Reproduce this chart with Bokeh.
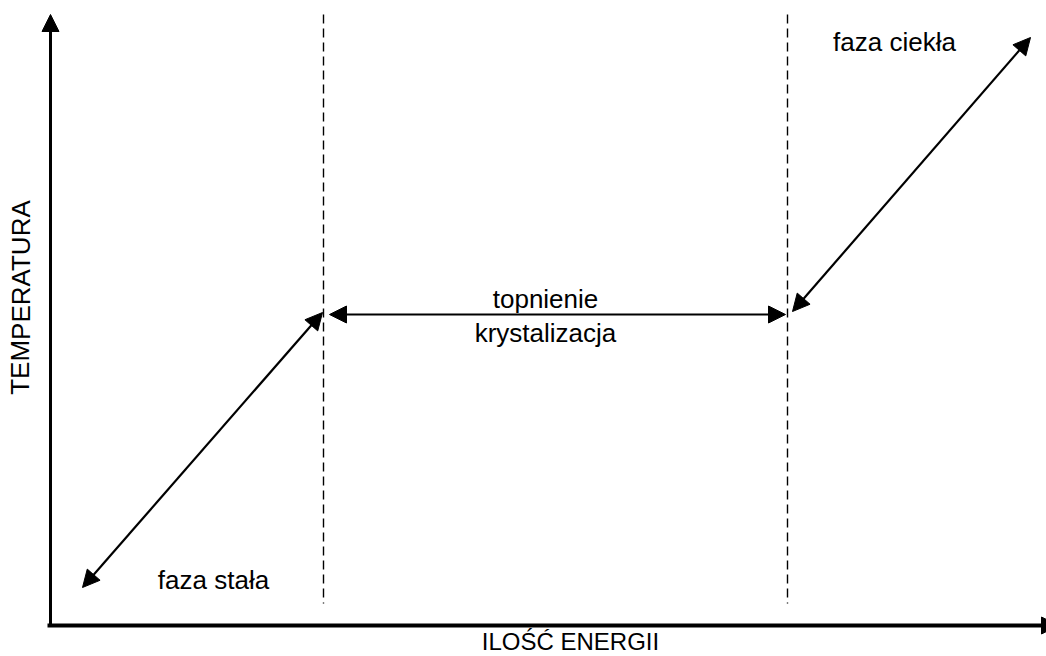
from bokeh.plotting import figure
from bokeh.models import Range1d, Arrow, NormalHead, ColumnDataSource, Label
from bokeh.embed import file_html
from bokeh.resources import INLINE

# Diagram geometry in page-pixel units (x to the right, y downward)
axis_origin = (50, 625)
y_axis_top = 14
x_axis_end = 1058

phase_boundaries = [323, 787]
boundary_top = 14
boundary_bottom = 603

# double-headed arrows: (x_start, y_start, x_end, y_end)
solid_arrow = (82, 587, 322, 312)
transition_arrow = (329, 314, 785, 314)
liquid_arrow = (792, 311, 1030, 37)

labels_text = ["faza stała", "topnienie", "krystalizacja", "faza ciekła"]
labels_x = [213, 545, 545, 894]
labels_y = [579, 298, 332, 41]

x_title = "ILOŚĆ ENERGII"
y_title = "TEMPERATURA"

W, H = 1046, 656
p = figure(width=W, height=H, x_range=Range1d(0, W), y_range=Range1d(H, 0),
           output_backend="svg", toolbar_location=None, min_border=0)
p.axis.visible = False
p.grid.visible = False
p.outline_line_color = None
p.background_fill_color = "white"

FONT = "Liberation Sans"

def head(s):
    return NormalHead(size=s, fill_color="black", line_color="black", line_width=1)

# axes with arrows
p.add_layout(Arrow(x_start=axis_origin[0], y_start=axis_origin[1], x_end=axis_origin[0], y_end=y_axis_top,
                   line_width=3, line_color="black", end=head(17)))
p.add_layout(Arrow(x_start=axis_origin[0] - 3, y_start=axis_origin[1], x_end=x_axis_end, y_end=axis_origin[1],
                   line_width=4, line_color="black", end=head(17)))

# dashed phase boundaries
src = ColumnDataSource(dict(xs=[[b, b] for b in phase_boundaries],
                            ys=[[boundary_top, boundary_bottom] for _ in phase_boundaries]))
p.multi_line("xs", "ys", source=src, line_color="black", line_width=1.4, line_dash="9 5")

for (x0, y0, x1, y1) in [solid_arrow, transition_arrow, liquid_arrow]:
    p.add_layout(Arrow(x_start=x0, y_start=y0, x_end=x1, y_end=y1, line_width=2.2, line_color="black",
                       start=head(17), end=head(17)))

for t, x, y in zip(labels_text, labels_x, labels_y):
    p.add_layout(Label(x=x, y=y, text=t, text_font=FONT, text_font_size="26px", text_color="black",
                       text_align="center", text_baseline="alphabetic"))

p.add_layout(Label(x=570, y=641, text=x_title, text_font=FONT, text_font_size="24px", text_color="black",
                   text_align="center", text_baseline="alphabetic"))
p.add_layout(Label(x=20, y=297, text=y_title, text_font=FONT, text_font_size="26px", text_color="black",
                   text_align="center", text_baseline="alphabetic", angle=1.5707963))

open("out.html", "w").write(file_html(p, INLINE))
